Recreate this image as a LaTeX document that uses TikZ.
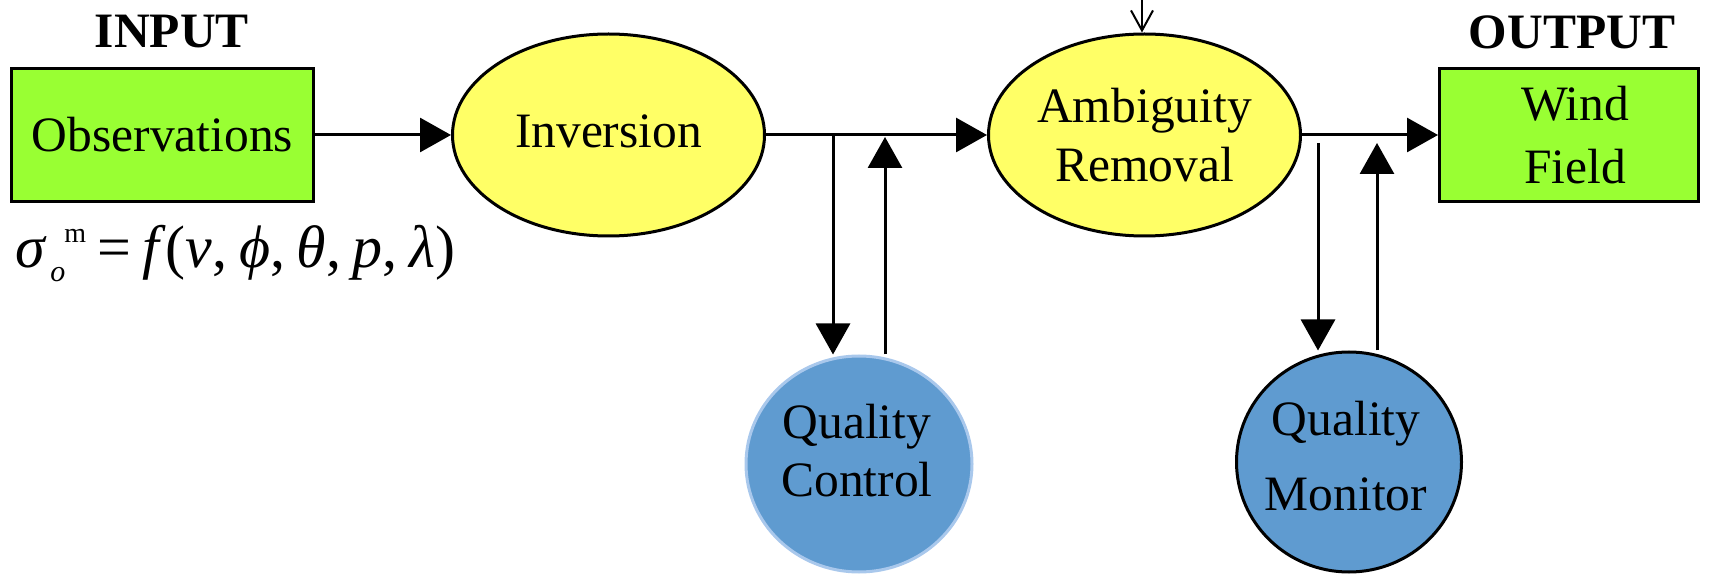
\documentclass[tikz,border=0pt]{standalone}
\usepackage{fontspec}
\setmainfont{Liberation Serif}
\usetikzlibrary{arrows.meta,shapes.geometric}
\definecolor{boxgreen}{HTML}{99FF33}
\definecolor{ellyellow}{HTML}{FFFF66}
\definecolor{circblue}{HTML}{5F9BD0}
\definecolor{qcborder}{HTML}{A9C8EC}
\tikzset{
  mainfont/.style={font=\fontsize{24.75}{29.5}\selectfont},
  greenbox/.style={draw=black, line width=1.5pt, fill=boxgreen, rectangle, inner sep=0pt, mainfont, align=center},
  yellowell/.style={draw=black, line width=1.5pt, fill=ellyellow, ellipse, inner sep=0pt, minimum width=156pt, minimum height=101pt, mainfont, align=center},
  bluecirc/.style={line width=1.5pt, fill=circblue, ellipse, inner sep=0pt},
  txt/.style={mainfont, align=center, inner sep=0pt},
  head/.style={font=\bfseries\fontsize{24.75}{29.5}\selectfont, inner sep=0pt},
  arr/.style={line width=1.5pt, -{Triangle[length=15.5pt,width=17pt]}},
  thinarr/.style={line width=1pt, -{Straight Barb[length=10pt,width=11pt,line width=1pt]}}
}
\begin{document}
\begin{tikzpicture}[x=0.5pt,y=-0.5pt]
\useasboundingbox (0,0) rectangle (1709,577);
% labels
\node[head] (input) at (172,32) {INPUT};
\node[head] (output) at (1572,32) {OUTPUT};
% main nodes
\node[greenbox, minimum width=151pt, minimum height=66.5pt] (obs) at (162.5,135) {Observations};
\node[yellowell] (inv) at (608.5,135) {\raisebox{3.5pt}{Inversion}};
\node[yellowell] (amb) at (1144.5,135) {Ambiguity\\Removal};
\node[greenbox, minimum width=129.5pt, minimum height=66.5pt, font=\fontsize{24.75}{31.5}\selectfont] (wind) at (1569,135) {\hspace{6pt}Wind\\\hspace{6pt}Field};
\node[bluecirc, draw=qcborder, minimum width=113pt, minimum height=108pt] (qc) at (859,464) {};
\node[txt, font=\fontsize{24.75}{29}\selectfont] (qct) at (857,451) {Quality\\Control};
\node[bluecirc, draw=black, minimum width=112.5pt, minimum height=110pt] (qm) at (1349,462) {};
\node[txt, font=\fontsize{24.75}{37.5}\selectfont] (qmt) at (1346,456) {Quality\\Monitor};
% formula
\node[inner sep=0pt, anchor=base west, font=\fontsize{30}{30}\selectfont] (eq) at (15,268)
  {\makebox[17.5pt][l]{\itshape σ}\rlap{\hspace{7pt}\raisebox{12.5pt}{\fontsize{14}{14}\selectfont m}}\makebox[23.5pt][l]{\raisebox{-7pt}{\fontsize{15}{15}\selectfont\itshape o}}\makebox[22.5pt][l]{=}\makebox[156.5pt][s]{\textit{f}\/(\textit{ν},\hfill \textit{ϕ},\hfill \textit{θ},\hfill \textit{p},\hfill \textit{λ}\/)}};
% coordinates
\coordinate (qcdown) at (833,135);
\coordinate (qcup) at (885,137);
\coordinate (qmdown) at (1318,143);
\coordinate (qmup) at (1377,143);
\coordinate (topin) at (1142,0);
% connectors
\draw[arr] (obs.east) -- (inv.west);
\draw[arr] (inv.east) -- (amb.west);
\draw[arr] (qcdown) -- (qcdown |- qc.north);
\draw[arr] (qcup |- qc.north) -- (qcup);
\draw[arr] (amb.east) -- (wind.west);
\draw[arr] (qmdown) -- (qmdown |- qm.north);
\draw[arr] (qmup |- qm.north) -- (qmup);
\draw[thinarr] (topin) -- (topin |- amb.north);
\end{tikzpicture}
\end{document}
